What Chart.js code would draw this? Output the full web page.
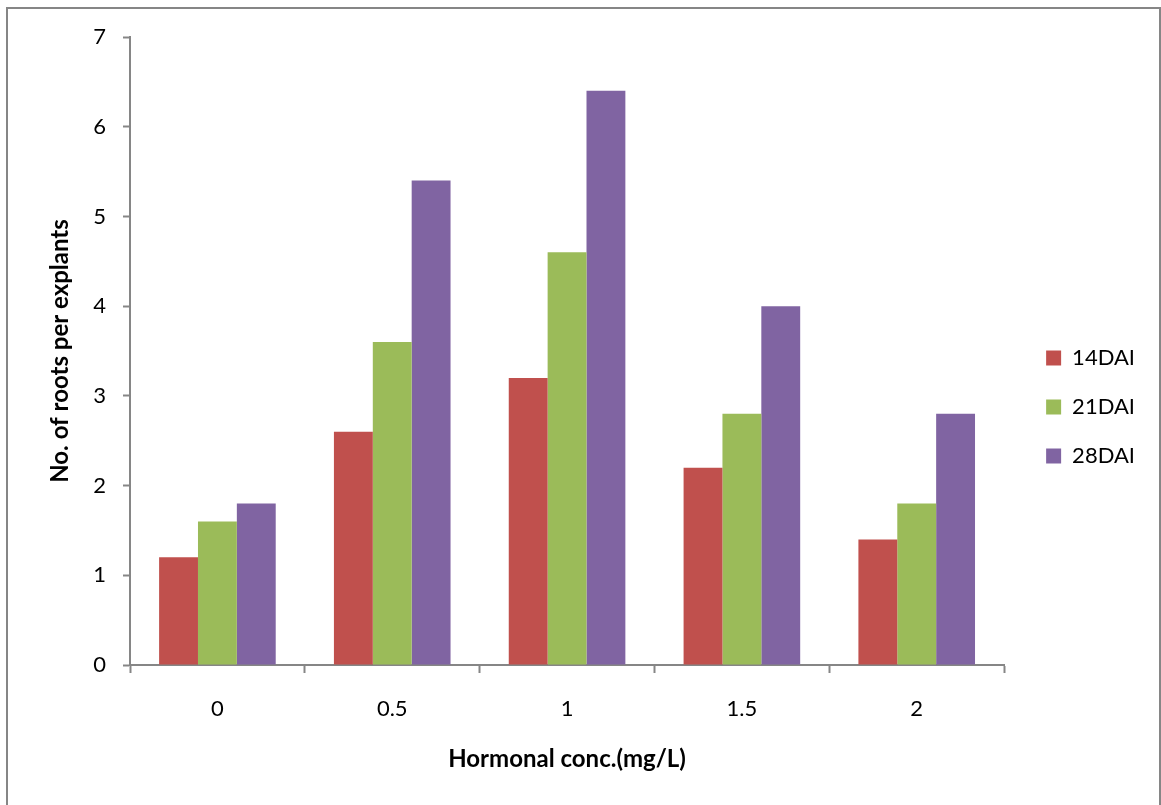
<!DOCTYPE html>
<html>
<head>
<meta charset="utf-8">
<script src="https://cdn.jsdelivr.net/npm/chart.js@4"></script>
<style>
  html, body { margin: 0; padding: 0; background: #fff; }
  #wrap { position: relative; width: 1161px; height: 805px; }
  #frame { position: absolute; left: 6px; top: 7px; width: 1155px; height: 800px; border: 2px solid #868686; border-bottom: none; box-sizing: border-box; }
  canvas { position: absolute; left: 0; top: 0; }
</style>
</head>
<body>
<div id="wrap">
  <div id="frame"></div>
  <canvas id="chart" width="1161" height="805"></canvas>
</div>
<script>
const categories = ['0', '0.5', '1', '1.5', '2']
const dai14 = [1.2, 2.6, 3.2, 2.2, 1.4]
const dai21 = [1.6, 3.6, 4.6, 2.8, 1.8]
const dai28 = [1.8, 5.4, 6.4, 4.0, 2.8]
const seriesLabels = ['14DAI', '21DAI', '28DAI']
const colors = ['#C0504D', '#9BBB59', '#8064A2']

const axisGray = '#868686'
const font = 'Lato, "Open Sans", sans-serif'

const ctx = document.getElementById('chart').getContext('2d')

new Chart(ctx, {
    type: 'bar',
    data: {
        labels: categories,
        datasets: [dai14, dai21, dai28].map((d, i) => ({
            label: seriesLabels[i],
            data: d,
            backgroundColor: colors[i],
            borderWidth: 0,
            categoryPercentage: 0.667,
            barPercentage: 1,
        })),
    },
    options: {
        responsive: false,
        animation: false,
        layout: { padding: { left: 0, top: 37, right: 16, bottom: 28 } },
        plugins: {
            tooltip: { enabled: false },
            legend: {
                position: 'right',
                labels: {
                    boxWidth: 15, boxHeight: 15, padding: 27,
                    color: '#000', font: { family: font, size: 22 },
                },
            },
        },
        scales: {
            x: {
                grid: { offset: true, drawOnChartArea: false, tickLength: 8, tickColor: axisGray, tickWidth: 2 },
                border: { color: axisGray, width: 2 },
                ticks: { color: '#000', font: { family: font, size: 22 }, padding: 23 },
                title: {
                    display: true, text: 'Hormonal conc.(mg/L)', color: '#000',
                    font: { family: font, size: 24, weight: 'bold' },
                    padding: { top: 4, bottom: 3 },
                },
                afterFit: s => { s.height = 112 },
            },
            y: {
                min: 0, max: 7,
                ticks: { stepSize: 1, color: '#000', font: { family: font, size: 22 }, padding: 17 },
                grid: { drawOnChartArea: false, tickLength: 7, tickColor: axisGray, tickWidth: 2 },
                border: { color: axisGray, width: 2 },
                title: {
                    display: true, text: 'No. of roots per explants', color: '#000',
                    font: { family: font, size: 24, weight: 'bold' },
                    padding: { top: 46, bottom: 4 },
                },
                afterFit: s => { s.width = 130 },
            },
            // empty spacer between the plot and the legend
            spacer: {
                position: 'right',
                grid: { display: false },
                border: { display: false },
                ticks: { display: false },
                afterFit: s => { s.width = 15 },
            },
        },
    },
})
</script>
</body>
</html>
